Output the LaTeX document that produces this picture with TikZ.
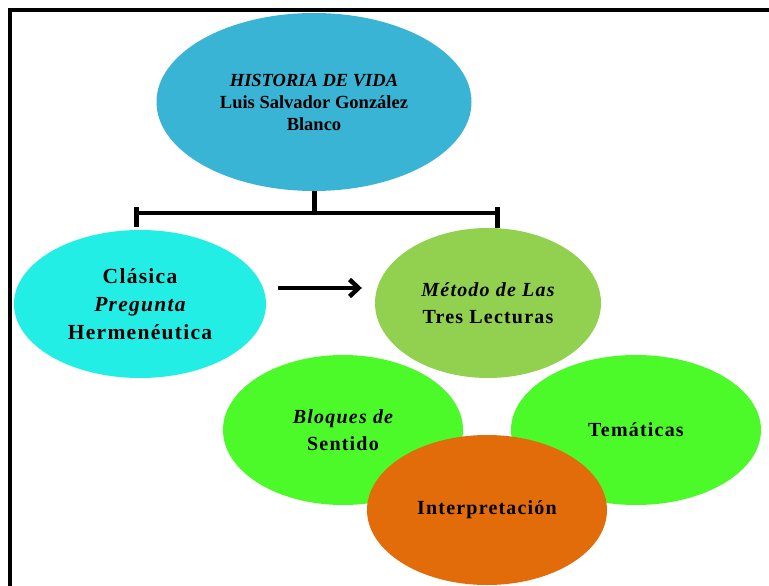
\documentclass[tikz,border=0pt]{standalone}
\usepackage{fontspec}
\setmainfont{Liberation Serif}
\newfontfamily\spaced{Liberation Serif}[LetterSpace=6.0]
\usepackage{tikz}
\usetikzlibrary{arrows.meta}
\usetikzlibrary{shapes.geometric}
\usetikzlibrary{positioning}

\definecolor{histblue}{RGB}{58,180,212}
\definecolor{clascyan}{RGB}{34,238,230}
\definecolor{metgreen}{RGB}{146,208,80}
\definecolor{leafgreen}{RGB}{76,250,42}
\definecolor{interorange}{RGB}{227,108,10}

\begin{document}
\begin{tikzpicture}[x=1pt,
        y=-1pt,
        bubble/.style={ellipse,inner sep=0pt,align=center,
          font=\spaced\bfseries\fontsize{20}{27}\selectfont},
        bar/.style={line width=3.5pt},
        barend/.style={line width=5pt},
        arr/.style={line width=4.5pt,-{Straight Barb[length=9pt,width=17pt]}}]

      \clip (0,0) rectangle (769,586);
      \useasboundingbox (0,0) rectangle (769,586);

      % frame
      \draw[line width=4pt] (10,586) -- (10,10) -- (769,10);

      \node[bubble, fill=histblue, minimum width=315pt, minimum height=178pt,
            font=\bfseries\fontsize{18.5}{22}\selectfont] (hist) at (314,102)
            {{\itshape HISTORIA DE VIDA}\\ Luis Salvador González\\ Blanco};
      \node[bubble, fill=clascyan, minimum width=252pt, minimum height=148pt,
            font=\spaced\bfseries\fontsize{21.5}{28}\selectfont] (clas) at (140,304)
            {Clásica\\ {\itshape Pregunta}\\ Hermenéutica};
      \node[bubble, fill=metgreen, minimum width=226pt, minimum height=150pt] (met) at (488,303)
            {{\itshape Método de Las}\\ Tres Lecturas};
      \node[bubble, fill=leafgreen, minimum width=240pt, minimum height=150pt] (blo) at (343,430)
            {{\itshape Bloques de}\\ Sentido};
      \node[bubble, fill=leafgreen, minimum width=250pt, minimum height=150pt] (tem) at (636,430)
            {Temáticas};
      \node[bubble, fill=interorange, minimum width=240pt, minimum height=150pt] (inter) at (487,510)
            {Interpretación};

      % bracket
      \coordinate (brkL) at (136,213);
      \coordinate (brkR) at (497,213);
      \coordinate (arrowy) at (0,288);
      \draw[bar] (brkL) -- (brkR);
      \draw[barend] (hist.south) -- (hist.south |- brkL);
      \draw[barend] ([yshift=6pt]brkL) -- ([yshift=-14pt]brkL);
      \draw[barend] ([yshift=6pt]brkR) -- ([yshift=-15pt]brkR);

      \draw[arr, shorten <=12pt, shorten >=13pt] (clas.east |- arrowy) -- (met.west |- arrowy);

\end{tikzpicture}
\end{document}
